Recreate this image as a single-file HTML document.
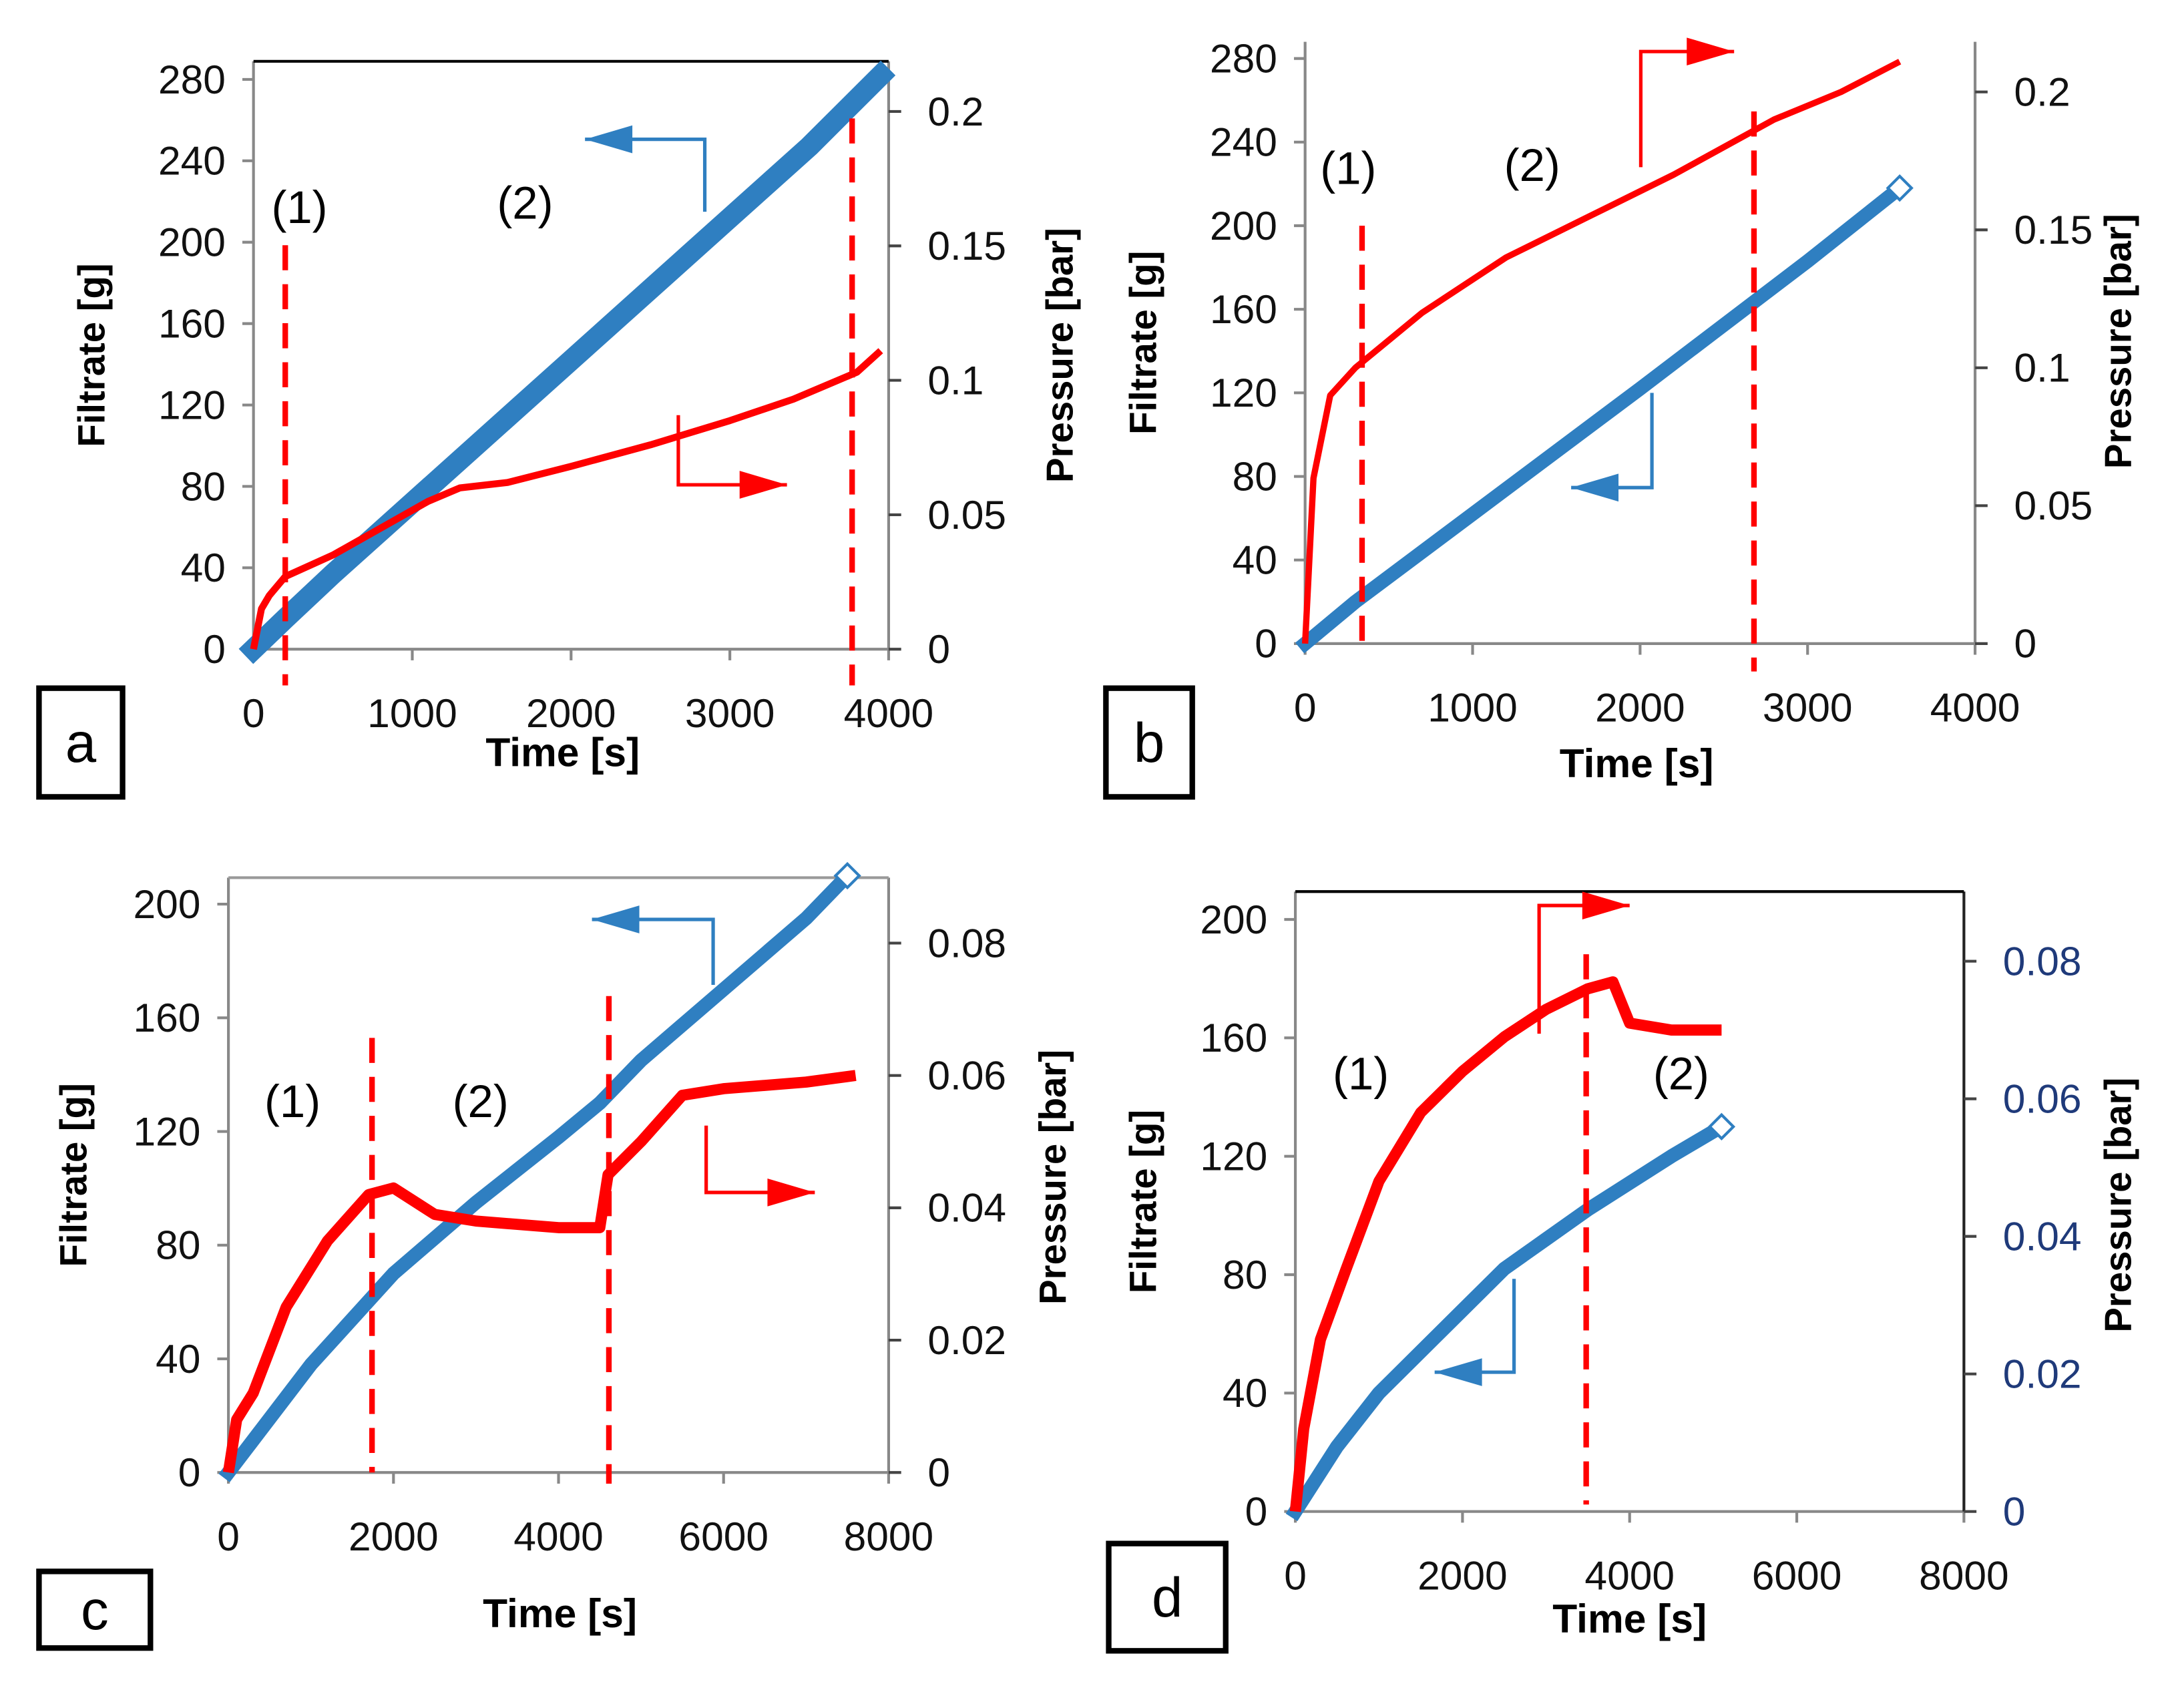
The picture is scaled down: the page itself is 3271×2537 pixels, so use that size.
<!DOCTYPE html>
<html><head><meta charset="utf-8"><style>
html,body{margin:0;padding:0;background:#fff}
svg{display:block}
text{font-family:"Liberation Sans",sans-serif}
</style></head><body>
<svg id="fig" width="3271" height="2537" viewBox="0 0 1568 1216" preserveAspectRatio="none" xmlns="http://www.w3.org/2000/svg"></svg>
<script>
// ---- Panel a data ----
const aTime = [0,200,500,1000,1500,2000,2500,3000,3500,3950];
const aFiltrate = [0,15,37,72,107,142,177,212,247,282];
const aPTime = [0,50,100,200,500,800,1100,1300,1600,2000,2500,3000,3400,3800,3950];
const aPressure = [0,0.015,0.02,0.027,0.035,0.045,0.055,0.06,0.062,0.068,0.076,0.085,0.093,0.103,0.111];
// ---- Panel b data ----
const bTime = [0,300,1000,2000,3000,3550];
const bFiltrate = [0,20,62,122,183,218];
const bPTime = [0,50,150,300,700,1200,1700,2200,2800,3200,3550];
const bPressure = [0,0.06,0.09,0.1,0.12,0.14,0.155,0.17,0.19,0.2,0.211];
// ---- Panel c data ----
const cTime = [0,1000,2000,3000,4000,4500,5000,6000,7000,7500];
const cFiltrate = [0,38,70,95,118,130,145,170,195,210];
const cPTime = [0,100,300,700,1200,1700,2000,2500,3000,4000,4500,4600,5000,5500,6000,7000,7600];
const cPressure = [0,0.008,0.012,0.025,0.035,0.042,0.043,0.039,0.038,0.037,0.037,0.045,0.05,0.057,0.058,0.059,0.06];
// ---- Panel d data ----
const dTime = [0,500,1000,2000,2500,3000,3500,4000,4500,5100];
const dFiltrate = [0,22,40,68,82,92,102,111,120,130];
const dPTime = [0,100,300,600,1000,1500,2000,2500,3000,3500,3800,4000,4500,5100];
const dPressure = [0,0.012,0.025,0.035,0.048,0.058,0.064,0.069,0.073,0.076,0.077,0.071,0.07,0.07];
// tick labels
const aXTicks=[0,1000,2000,3000,4000], aYTicks=[0,40,80,120,160,200,240,280], aRTicks=["0","0.05","0.1","0.15","0.2"];
const cXTicks=[0,2000,4000,6000,8000], cYTicks=[0,40,80,120,160,200], cRTicks=["0","0.02","0.04","0.06","0.08"];

const NS="http://www.w3.org/2000/svg";
const svg=document.getElementById('fig');
function mk(tag,attrs,parent,txt){const e=document.createElementNS(NS,tag);for(const k in attrs)e.setAttribute(k,attrs[k]);if(txt!==undefined)e.textContent=txt;(parent||svg).appendChild(e);return e;}

function panel(p){
  const g=mk('g',{});
  
  
  const X=t=>p.x0+(t/p.xmax)*(p.x1-p.x0);
  const Y=v=>p.yb-(v/p.ymax)*(p.yb-p.ytop0);
  const R=v=>p.yb-(v/p.rmax)*(p.yb-p.rtop);
  const la=mk('line',{x1:p.x0,y1:p.ytop,x2:p.x0,y2:p.yb,stroke:'#888','stroke-width':2},g);
  
  const xa=mk('line',{x1:p.x0,y1:p.yb,x2:p.x1,y2:p.yb,stroke:'#888','stroke-width':2},g);
  
  const ra=mk('line',{x1:p.x1,y1:p.ytop,x2:p.x1,y2:p.yb,stroke:p.rColor==='#111'?'#888':'#222','stroke-width':2},g);
  
  if(p.top){const tb=mk('line',{x1:p.x0,y1:p.ytop,x2:p.x1,y2:p.ytop,stroke:p.top,'stroke-width':2},g);
    }
  p.xt.forEach(t=>{mk('line',{x1:X(t),y1:p.yb,x2:X(t),y2:p.yb+8,stroke:'#888','stroke-width':2},g);
    const e=mk('text',{x:X(t),y:p.yb+56,'font-size':29,'text-anchor':'middle',fill:'#111'},g,String(t));
    });
  p.yt.forEach(v=>{mk('line',{x1:p.x0-8,y1:Y(v),x2:p.x0,y2:Y(v),stroke:'#888','stroke-width':2},g);
    const e=mk('text',{x:p.x0-20,y:Y(v)+10,'font-size':29,'text-anchor':'end',fill:'#111'},g,String(v));
    });
  p.rt.forEach(s=>{const v=parseFloat(s);mk('line',{x1:p.x1,y1:R(v),x2:p.x1+9,y2:R(v),stroke:'#444','stroke-width':2},g);
    const e=mk('text',{x:p.x1+28,y:R(v)+10,'font-size':29,fill:p.rColor},g,s);
    });
  const yl=mk('text',{transform:`translate(${p.ylx},${(p.ytop+p.yb)/2}) rotate(-90)`,'font-size':27,'font-weight':'bold','text-anchor':'middle'},g,'Filtrate [g]');
  
  const rl=mk('text',{transform:`translate(${p.rlx},${p.rly}) rotate(-90)`,'font-size':27,'font-weight':'bold','text-anchor':'middle'},g,'Pressure [bar]');
  
  const xl=mk('text',{x:p.xlx,y:p.xly,'font-size':29,'font-weight':'bold','text-anchor':'middle'},g,'Time [s]');
  
  const bp=p.ft.map((t,i)=>X(t)+','+Y(p.fv[i])).join(' ');
  const bl=mk('polyline',{points:bp,fill:'none',stroke:'#2f7fc1','stroke-width':p.bw,'stroke-linejoin':'round','stroke-linecap':'square'},g);
  
  const lt=p.ft[p.ft.length-1], lv=p.fv[p.fv.length-1];
  if(p.hollow){const d=mk('rect',{x:X(lt)-6,y:Y(lv)-6,width:12,height:12,fill:'#fff',stroke:'#2f7fc1','stroke-width':2,transform:`rotate(45 ${X(lt)} ${Y(lv)})`},g);
    }
  const rp=p.pt.map((t,i)=>X(t)+','+R(p.pv[i])).join(' ');
  const rline=mk('polyline',{points:rp,fill:'none',stroke:'#f00','stroke-width':p.rw,'stroke-linejoin':'round'},g);
  
  p.dash.forEach(d=>{const e=mk('line',{x1:X(d[0]),y1:d[1],x2:X(d[0]),y2:d[2],stroke:'#f00','stroke-width':4,'stroke-dasharray':'18,10'},g);
    });
  p.arrows.forEach(a=>{const [pts,col,dir]=a;
    const e=mk('polyline',{points:pts.map(q=>q.join(',')).join(' '),fill:'none',stroke:col,'stroke-width':2.5},g);
    
    const [ex,ey]=pts[pts.length-1];const s=dir;
    mk('polygon',{points:`${ex},${ey} ${ex-s*34},${ey-10} ${ex-s*34},${ey+10}`,fill:col},g);});
  p.labels.forEach(l=>{const e=mk('text',{x:l[1],y:l[2],'font-size':33,'text-anchor':'middle'},g,l[0]);
    });
  const b=p.box;
  const br=mk('rect',{x:b[0],y:b[1],width:b[2]-b[0],height:b[3]-b[1],fill:'#fff',stroke:'#000','stroke-width':4},g);
  
  const bt=mk('text',{x:(b[0]+b[2])/2,y:(b[1]+b[3])/2+14,'font-size':40,'text-anchor':'middle'},g,p.id);
  
}

panel({id:'a',x0:182,x1:638,xmax:4000,yb:466,ytop0:57,ymax:280,ytop:44,rtop:80,rmax:0.2,top:'#000',
  xt:aXTicks,yt:aYTicks,rt:aRTicks,rColor:'#111',ft:aTime,fv:aFiltrate,pt:aPTime,pv:aPressure,bw:15,rw:5,hollow:false,
  ylx:75,rlx:770,rly:255,xlx:404,xly:550,
  dash:[[200,176,492],[3770,85,492]],
  arrows:[[[[506,152],[506,100],[420,100]],'#2f7fc1',-1],[[[487,298],[487,348],[565,348]],'#f00',1]],
  labels:[['(1)',215,160],['(2)',377,157]],box:[28,494,88,572]});
panel({id:'b',x0:937,x1:1418,xmax:4000,yb:462,ytop0:42,ymax:280,ytop:30,rtop:66,rmax:0.2,top:null,
  xt:aXTicks,yt:aYTicks,rt:aRTicks,rColor:'#111',ft:bTime,fv:bFiltrate,pt:bPTime,pv:bPressure,bw:10,rw:4.5,hollow:true,
  ylx:830,rlx:1530,rly:245,xlx:1175,xly:558,
  dash:[[340,162,462],[2680,80,482]],
  arrows:[[[[1178,120],[1178,37],[1245,37]],'#f00',1],[[[1186,282],[1186,350],[1128,350]],'#2f7fc1',-1]],
  labels:[['(1)',968,132],['(2)',1100,130]],box:[794,494,856,572]});
panel({id:'c',x0:164,x1:638,xmax:8000,yb:1057,ytop0:649,ymax:200,ytop:630,rtop:677,rmax:0.08,top:'#999',
  xt:cXTicks,yt:cYTicks,rt:cRTicks,rColor:'#111',ft:cTime,fv:cFiltrate,pt:cPTime,pv:cPressure,bw:10,rw:8,hollow:true,
  ylx:62,rlx:765,rly:845,xlx:402,xly:1168,
  dash:[[1740,745,1057],[4610,715,1065]],
  arrows:[[[[512,707],[512,660],[425,660]],'#2f7fc1',-1],[[[507,808],[507,856],[585,856]],'#f00',1]],
  labels:[['(1)',210,802],['(2)',345,802]],box:[28,1128,108,1183]});
panel({id:'d',x0:930,x1:1410,xmax:8000,yb:1085,ytop0:660,ymax:200,ytop:640,rtop:690,rmax:0.08,top:'#000',
  xt:cXTicks,yt:cYTicks,rt:cRTicks,rColor:'#1f3a7a',ft:dTime,fv:dFiltrate,pt:dPTime,pv:dPressure,bw:10,rw:8,hollow:true,
  ylx:830,rlx:1530,rly:865,xlx:1170,xly:1172,
  dash:[[3480,685,1080]],
  arrows:[[[[1105,742],[1105,650],[1170,650]],'#f00',1],[[[1087,918],[1087,985],[1030,985]],'#2f7fc1',-1]],
  labels:[['(1)',977,782],['(2)',1207,782]],box:[796,1108,880,1185]});
</script>
</body></html>
